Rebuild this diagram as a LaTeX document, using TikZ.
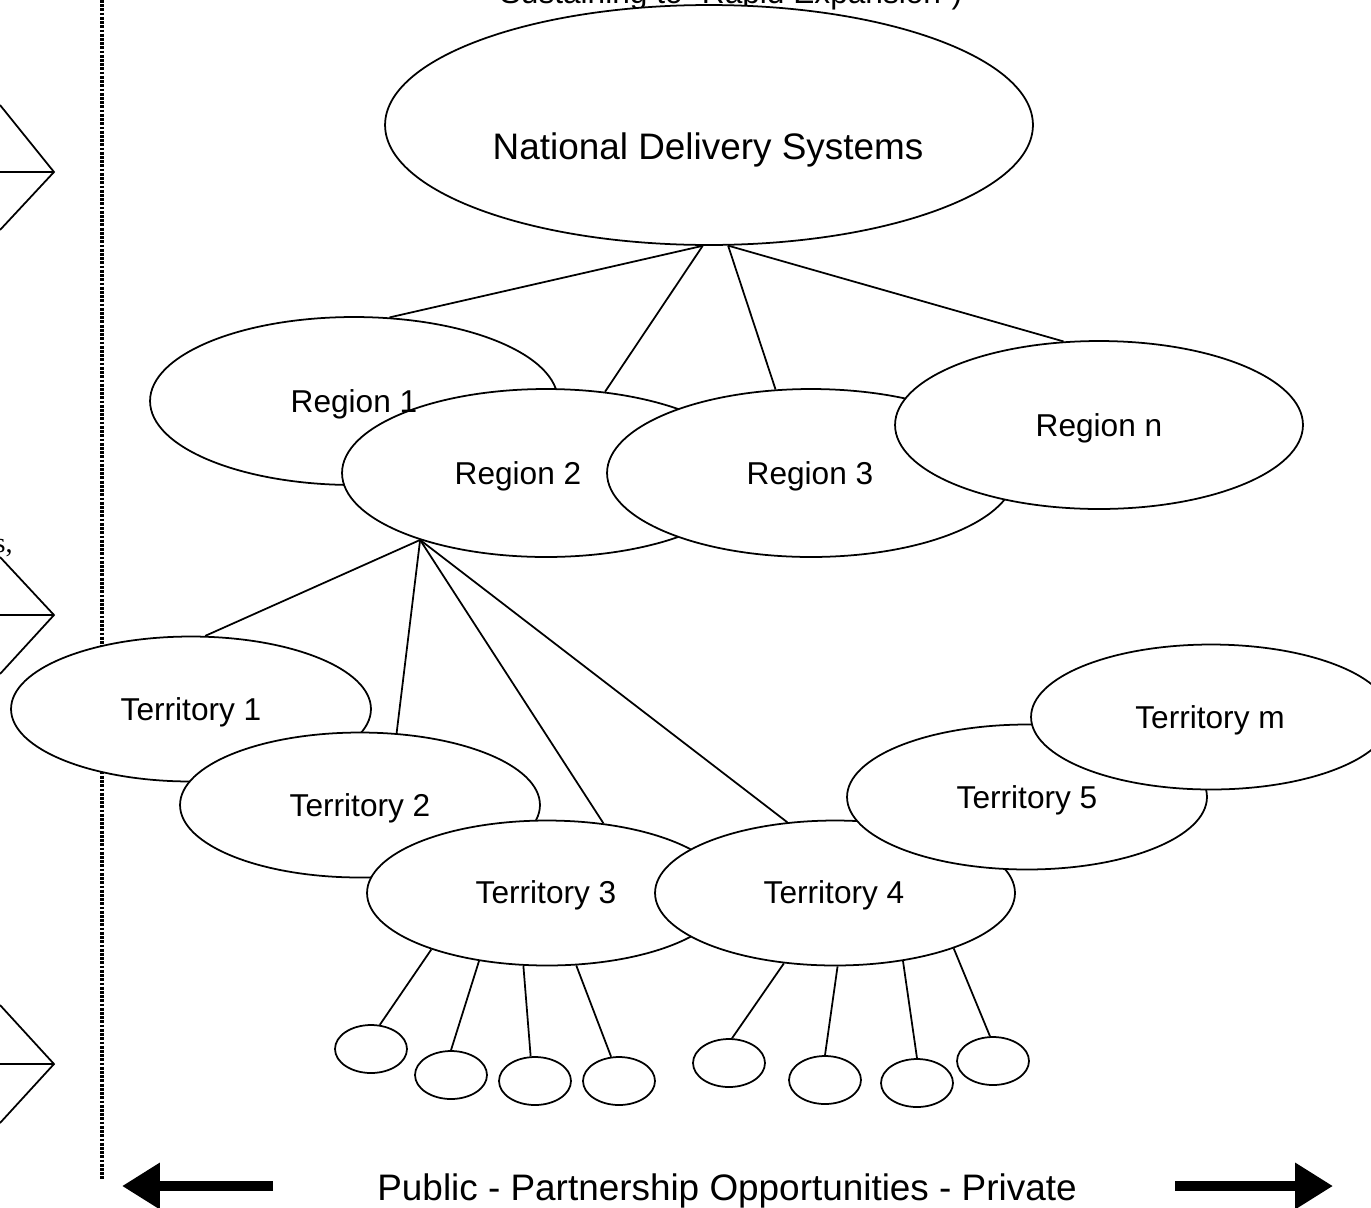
\documentclass[tikz,border=0pt]{standalone}
\usepackage{fontspec}
\setmainfont{Liberation Sans}
\newfontfamily\serifside{Liberation Serif}
\usetikzlibrary{shapes.geometric}
\usetikzlibrary{arrows.meta}

\begin{document}
\begin{tikzpicture}[x=0.02cm, y=-0.02cm,
    blob/.style={ellipse, draw, fill=white, line width=1pt, inner sep=0pt},
    region/.style={blob, minimum width=8.16cm, minimum height=3.36cm},
    territory/.style={blob, minimum width=7.2cm, minimum height=2.9cm},
    outlet/.style={blob, minimum width=1.44cm, minimum height=0.96cm},
    link/.style={line width=1pt},
    lbl/.style={font=\fontsize{18}{22}\selectfont},
    biglbl/.style={font=\fontsize{21}{25}\selectfont},
    bigarrow/.style={line width=6pt, -{Triangle[length=21.5pt, width=25pt]}}]
    \useasboundingbox (0,0) rectangle (1371,1207);
    \clip (0,0) rectangle (1371,1207);

    % Left column (cut off)
    \draw[line width=1.8pt, dash pattern=on 1.6pt off 0.8pt] (102,0) -- (102,1180);
    \foreach \ya/\yb/\yc in {105/172/230, 557/615/674, 1005/1064/1123} {
        \draw[link] (0,\ya) -- (54,\yb) -- (0,\yc);
        \draw[link] (0,\yb) -- (54,\yb);
    }
    \node[anchor=base east, inner sep=0pt, font=\serifside\fontsize{16}{18}\selectfont] (colnote) at (13,552) {s,};

    % Heading (cut off)
    \node[lbl, anchor=base] (heading) at (731,3) {Sustaining to ``Rapid Expansion'')};

    % National level
    \node[blob, minimum width=12.96cm, minimum height=4.8cm] (nat) at (709,125) {};

    % Regions
    \node[region] (r1) at (354,401) {};
    \node[region] (r2) at (546,473) {};
    \node[region] (r3) at (811,473) {};
    \node[region] (rn) at (1099,425) {};

    % Territories
    \node[territory] (t1) at (191,709) {};
    \node[territory] (t2) at (360,805) {};
    \node[territory] (t3) at (547,893) {};
    \node[territory] (t4) at (835,893) {};
    \node[territory] (t5) at (1027,797) {};
    \node[territory] (tm) at (1211,717) {};

    % Outlets
    \foreach \n/\x/\y in {c1/371/1049, c2/451/1075, c3/535/1081, c4/619/1081,
                          c5/729/1063, c6/825/1080, c7/917/1083, c8/993/1061}
        \node[outlet] (\n) at (\x,\y) {};

    % Labels
    \node[biglbl] (nat-t) at (708,150) {National Delivery Systems};
    \foreach \n/\x/\y/\t in {r1/354/404/Region 1, r2/518/476/Region 2,
                             r3/810/476/Region 3, rn/1099/428/Region n,
                             t1/191/712/Territory 1, t2/360/808/Territory 2,
                             t3/546/895/Territory 3, t4/834/895/Territory 4,
                             t5/1027/800/Territory 5, tm/1210/720/Territory m}
        \node[lbl] (\n-t) at (\x,\y) {\t};

    % Links
    \draw[link] (nat.267) -- (r1.67);
    \draw[link] (nat.267) -- (r2.54);
    \draw[link] (nat.279) -- (r3.113);
    \draw[link] (nat.279) -- (rn.113);
    \foreach \n/\a in {t1/79, t2/63, t3/51, t4/124}
        \draw[link] (r2.208) -- (\n.\a);
    \foreach \s/\n/\a in {206/c1/70, 225/c2/90, 252/c3/100, 292/c4/108}
        \draw[link] (t3.\s) -- (\n.\a);
    \foreach \s/\n/\a in {234/c5/83, 272/c6/90, 315/c7/90, 335/c8/97}
        \draw[link] (t4.\s) -- (\n.\a);

    % Public - private spectrum
    \node[biglbl, anchor=base] (spectrum) at (727,1200) {Public - Partnership Opportunities - Private};
    \coordinate (pubA) at (273,1186);
    \coordinate (pubB) at (122,1186);
    \coordinate (prvA) at (1175,1186);
    \coordinate (prvB) at (1333,1186);
    \draw[bigarrow] (pubA) -- (pubB);
    \draw[bigarrow] (prvA) -- (prvB);
\end{tikzpicture}
\end{document}
